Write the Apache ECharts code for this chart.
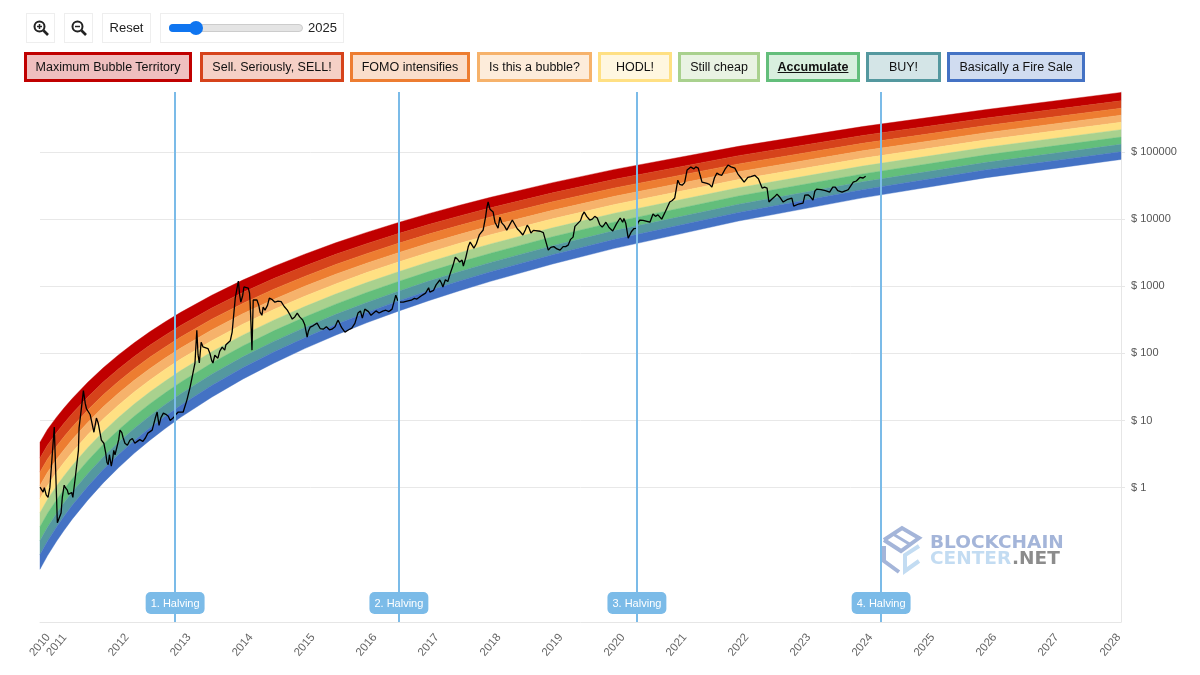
<!DOCTYPE html>
<html>
<head>
<meta charset="utf-8">
<title>Bitcoin Rainbow Price Chart</title>
<script src="https://cdn.jsdelivr.net/npm/echarts@6/dist/echarts.min.js"></script>
<style>
    html, body { margin: 0; padding: 0; background: #fff; }
    body { width: 1200px; height: 675px; position: relative; overflow: hidden; font-family: "Liberation Sans", Arial, sans-serif; color: #222; }
    #chart { position: absolute; left: 0; top: 0; width: 1200px; height: 675px; }
    .tool { position: absolute; top: 13px; height: 30px; box-sizing: border-box; border: 1px solid #eee; text-align: center; line-height: 28px; font-size: 13px; }
    .tool svg { margin-top: 6px; }
    .track { position: absolute; left: 8px; top: 10px; width: 134px; height: 8px; box-sizing: border-box; border-radius: 4px; background: #e4e4e4; border: 1px solid #ccc; }
    .fill { position: absolute; left: 8px; top: 10px; width: 30px; height: 8px; border-radius: 4px; background: #0f75f0; }
    .thumb { position: absolute; left: 28px; top: 7px; width: 14px; height: 14px; border-radius: 7px; background: #0f75f0; }
    .year { position: absolute; left: 147px; top: 0; }
    .legendBox { position: absolute; top: 52px; height: 30px; box-sizing: border-box; border-width: 3px; border-style: solid; text-align: center; line-height: 25px; font-size: 12.5px; color: #111; }
</style>
</head>
<body>
<div id="chart"></div>
<div class="tool" style="left:26px;width:29px"><svg width="16" height="16" viewBox="0 0 16 16"><circle cx="6.5" cy="6.5" r="5" fill="none" stroke="#222" stroke-width="2"/><path d="M10.5 10.5L15 15" stroke="#222" stroke-width="2.6"/><path d="M4 6.5h5M6.5 4v5" stroke="#222" stroke-width="1.5"/></svg></div>
<div class="tool" style="left:64px;width:29px"><svg width="16" height="16" viewBox="0 0 16 16"><circle cx="6.5" cy="6.5" r="5" fill="none" stroke="#222" stroke-width="2"/><path d="M10.5 10.5L15 15" stroke="#222" stroke-width="2.6"/><path d="M4 6.5h5" stroke="#222" stroke-width="1.5"/></svg></div>
<div class="tool" style="left:102px;width:49px">Reset</div>
<div class="tool" style="left:160px;width:184px">
    <div class="track"></div><div class="fill"></div><div class="thumb"></div>
    <div class="year">2025</div>
</div>
<div id="legend"></div>
<script>
// band edges, top edge to bottom edge
var edgeYears = [2010.73, 2010.85, 2011, 2011.12, 2011.25, 2011.5, 2011.75, 2012, 2012.25, 2012.5, 2012.75, 2013, 2013.5, 2014, 2014.5, 2015, 2015.5, 2016, 2016.5, 2017, 2017.5, 2018, 2019, 2020, 2022, 2024, 2026, 2028.17];
var edgeBubble = [4.76, 7.36, 11.35, 15.5, 21.3, 37.1, 61.2, 95.7, 144, 210, 296, 409, 735, 1236, 1972, 3006, 4446, 6353, 8831, 12080, 16110, 21180, 34990, 55080, 121600, 239300, 429500, 770900];
var edgeSell = [2.76, 4.29, 6.67, 9.18, 12.7, 22.4, 37.4, 59, 89.7, 132, 187, 261, 474, 809, 1303, 2004, 2992, 4315, 6039, 8318, 11170, 14760, 24660, 39260, 88310, 176200, 320600, 578100];
var edgeFomo = [1.71, 2.66, 4.18, 5.79, 8.05, 14.4, 24.2, 38.5, 59.2, 87.5, 125, 175, 324, 556, 906, 1403, 2113, 3062, 4325, 5984, 8091, 10760, 18160, 29170, 66530, 134600, 247700, 448700];
var edgeIsBubble = [1.08, 1.69, 2.67, 3.72, 5.22, 9.4, 16, 25.7, 39.7, 59.2, 85.3, 120, 224, 389, 638, 1000, 1514, 2213, 3141, 4375, 5943, 7943, 13550, 21930, 50930, 104200, 194100, 353200];
var edgeHodl = [0.685, 1.07, 1.71, 2.4, 3.38, 6.14, 10.6, 17.1, 26.7, 40, 58.1, 82.4, 155, 273, 451, 711, 1086, 1600, 2286, 3199, 4375, 5875, 10120, 16520, 38900, 80540, 151700, 277300];
var edgeCheap = [0.424, 0.667, 1.07, 1.51, 2.14, 3.94, 6.84, 11.2, 17.6, 26.6, 38.8, 55.5, 106, 187, 313, 498, 767, 1135, 1633, 2301, 3162, 4276, 7430, 12250, 29310, 61660, 117500, 215300];
var edgeAccumulate = [0.262, 0.414, 0.67, 0.953, 1.36, 2.53, 4.44, 7.31, 11.6, 17.7, 25.9, 37.3, 71.9, 129, 217, 348, 542, 807, 1169, 1656, 2291, 3112, 5470, 9099, 22130, 47100, 90780, 167100];
var edgeBuy = [0.163, 0.257, 0.42, 0.6, 0.863, 1.62, 2.87, 4.78, 7.64, 11.7, 17.4, 25.1, 49, 88.9, 151, 244, 382, 574, 838, 1194, 1660, 2270, 4027, 6761, 16670, 35970, 70150, 130000];
var edgeFireSale = [0.101, 0.16, 0.263, 0.378, 0.547, 1.04, 1.86, 3.12, 5.04, 7.78, 11.6, 16.9, 33.3, 61.2, 105, 171, 270, 408, 600, 859, 1202, 1652, 2958, 5012, 12590, 27480, 54330, 100900];
var edgeBottom = [0.061, 0.097, 0.161, 0.233, 0.34, 0.653, 1.18, 2, 3.26, 5.07, 7.62, 11.2, 22.3, 41.4, 71.6, 118, 187, 286, 423, 610, 859, 1186, 2148, 3673, 9376, 20750, 41500, 77450];
var edges = [edgeBubble, edgeSell, edgeFomo, edgeIsBubble, edgeHodl, edgeCheap, edgeAccumulate, edgeBuy, edgeFireSale, edgeBottom];

var bandNames = ['Maximum Bubble Territory', 'Sell. Seriously, SELL!', 'FOMO intensifies', 'Is this a bubble?', 'HODL!', 'Still cheap', 'Accumulate', 'BUY!', 'Basically a Fire Sale'];
var bandColors = ['#c00000', '#d6431b', '#ed7d31', '#f6b26b', '#ffe083', '#a9d18e', '#63be7b', '#54989f', '#4472c4'];
var legendLeft = [24, 200, 350, 477, 598, 678, 766, 866, 947];
var legendWidth = [168, 144, 120, 115, 74, 82, 94, 75, 138];

// main turning points of the price
var priceYears = [2010.73, 2010.78, 2010.86, 2010.89, 2010.93, 2010.96, 2010.99, 2011.01, 2011.04, 2011.07, 2011.09, 2011.12, 2011.17, 2011.22, 2011.26, 2011.30, 2011.35, 2011.36, 2011.39, 2011.43, 2011.46, 2011.51, 2011.57, 2011.60, 2011.64, 2011.67, 2011.72, 2011.76, 2011.81, 2011.85, 2011.88, 2011.94, 2011.97, 2012.02, 2012.07, 2012.14, 2012.18, 2012.30, 2012.39, 2012.47, 2012.54, 2012.59, 2012.62, 2012.65, 2012.72, 2012.80, 2012.86, 2012.91, 2012.96, 2013.04, 2013.10, 2013.15, 2013.23, 2013.26, 2013.30, 2013.33, 2013.39, 2013.47, 2013.52, 2013.55, 2013.67, 2013.76, 2013.83, 2013.88, 2013.93, 2013.97, 2014.02, 2014.09, 2014.12, 2014.15, 2014.17, 2014.23, 2014.28, 2014.36, 2014.43, 2014.57, 2014.72, 2014.80, 2014.88, 2014.97, 2015.04, 2015.09, 2015.20, 2015.30, 2015.44, 2015.54, 2015.65, 2015.76, 2015.86, 2015.93, 2015.97, 2016.10, 2016.26, 2016.41, 2016.47, 2016.54, 2016.59, 2016.81, 2017.02, 2017.05, 2017.18, 2017.23, 2017.35, 2017.43, 2017.54, 2017.56, 2017.67, 2017.73, 2017.88, 2017.96, 2018.04, 2018.12, 2018.15, 2018.26, 2018.35, 2018.52, 2018.59, 2018.65, 2018.72, 2018.88, 2018.93, 2019.12, 2019.25, 2019.33, 2019.39, 2019.51, 2019.60, 2019.72, 2019.80, 2019.86, 2019.97, 2020.09, 2020.18, 2020.22, 2020.35, 2020.41, 2020.57, 2020.62, 2020.76, 2020.89, 2020.97, 2021.02, 2021.09, 2021.17, 2021.23, 2021.35, 2021.41, 2021.57, 2021.65, 2021.73, 2021.83, 2021.94, 2022.09, 2022.15, 2022.26, 2022.38, 2022.46, 2022.49, 2022.62, 2022.72, 2022.86, 2022.89, 2023.04, 2023.07, 2023.20, 2023.26, 2023.47, 2023.52, 2023.67, 2023.80, 2023.85, 2023.96, 2024.05];
var priceValues = [1.02, 0.86, 0.72, 1.02, 3.3, 8, 8, 0.3, 0.3, 0.42, 0.72, 1.09, 0.92, 0.83, 0.72, 1.43, 3.6, 7.7, 7.2, 28, 18, 14.3, 12.9, 6.7, 10.9, 9.1, 5.1, 4.6, 2.4, 3.1, 2.1, 3.1, 4, 7.2, 5.6, 4.3, 5.1, 4.9, 4.9, 6.5, 7.2, 10.9, 13.4, 8.5, 12.9, 11.6, 10.5, 12, 13.4, 13.4, 20.2, 31, 72, 222, 72, 147, 128, 101, 72, 94, 124, 128, 208, 667, 1195, 581, 977, 940, 581, 112, 625, 625, 412, 442, 667, 600, 442, 325, 399, 313, 175, 247, 283, 230, 230, 313, 208, 238, 399, 336, 457, 385, 427, 457, 739, 581, 581, 645, 820, 820, 1240, 977, 1570, 2720, 2460, 2000, 4550, 3700, 6900, 18000, 12800, 7360, 10700, 6850, 9700, 5800, 8150, 6200, 6650, 6400, 3460, 3460, 4100, 5400, 8150, 12800, 9700, 10400, 7600, 9000, 6650, 10400, 8700, 5200, 7300, 9700, 9000, 11900, 10000, 18000, 20600, 38000, 32000, 54000, 59600, 57600, 35600, 30000, 48500, 45000, 64000, 57600, 35600, 42000, 45000, 29000, 29000, 18000, 23600, 18000, 20600, 15600, 17300, 22800, 19200, 28000, 25300, 30000, 25300, 27000, 35600, 42000, 43700];

// smaller wiggles between those points, from the zoomed crops
var detailYears = [2010.80, 2010.83, 2011.14, 2011.19, 2011.24, 2011.41, 2011.48, 2011.54, 2011.79, 2011.83, 2011.90, 2011.92, 2012.00, 2012.05, 2012.10, 2012.22, 2012.26, 2012.34, 2012.43, 2012.68, 2012.76, 2012.83, 2012.89, 2013.28, 2013.36, 2013.44, 2013.50, 2013.60, 2013.63, 2013.71, 2013.73, 2013.80, 2013.95, 2014.00, 2014.05, 2014.11, 2014.26, 2014.31, 2014.33, 2014.40, 2014.47, 2014.52, 2014.62, 2014.67, 2014.76, 2014.84, 2014.92, 2015.00, 2015.06, 2015.14, 2015.25, 2015.35, 2015.40, 2015.49, 2015.52, 2015.58, 2015.60, 2015.71, 2015.81, 2015.90, 2016.03, 2016.07, 2016.15, 2016.20, 2016.31, 2016.36, 2016.50, 2016.57, 2016.65, 2016.72, 2016.77, 2016.90, 2016.95, 2017.00, 2017.08, 2017.12, 2017.21, 2017.27, 2017.31, 2017.39, 2017.47, 2017.50, 2017.60, 2017.64, 2017.70, 2017.77, 2017.82, 2017.85, 2017.92, 2017.94, 2017.99, 2018.02, 2018.07, 2018.10, 2018.18, 2018.22, 2018.30, 2018.38, 2018.43, 2018.47, 2018.56, 2018.62, 2018.69, 2018.80, 2018.85, 2018.97, 2019.02, 2019.07, 2019.17, 2019.21, 2019.29, 2019.36, 2019.45, 2019.48, 2019.55, 2019.64, 2019.68, 2019.76, 2019.83, 2019.91, 2020.03, 2020.13, 2020.15, 2020.27, 2020.31, 2020.38, 2020.46, 2020.52, 2020.66, 2020.70, 2020.82, 2020.93, 2021.05, 2021.13, 2021.20, 2021.28, 2021.31, 2021.38, 2021.44, 2021.49, 2021.53, 2021.61, 2021.69, 2021.78, 2021.88, 2021.99, 2022.04, 2022.12, 2022.20, 2022.32, 2022.42, 2022.54, 2022.58, 2022.67, 2022.78, 2022.97, 2023.12, 2023.16, 2023.23, 2023.33, 2023.40, 2023.56, 2023.60, 2023.73, 2023.77, 2023.90, 2024.01];
var detailValues = [1.0, 0.78, 1.0, 0.8, 0.85, 19, 15, 12.2, 3.3, 2.2, 2.6, 3.6, 5.2, 6.6, 4.6, 5.4, 4.6, 5.2, 5.5, 11, 12.4, 10, 11.2, 95, 125, 118, 78, 85, 108, 112, 135, 155, 760, 730, 1000, 800, 520, 370, 490, 520, 640, 580, 590, 500, 380, 350, 350, 270, 215, 260, 235, 250, 225, 250, 290, 260, 240, 225, 280, 430, 420, 370, 430, 400, 440, 420, 620, 560, 600, 620, 660, 740, 790, 950, 870, 1050, 1100, 1250, 1180, 2000, 2500, 2300, 2700, 3900, 4300, 4300, 5900, 6000, 11000, 15000, 14000, 14500, 9000, 8500, 8800, 8000, 8000, 9200, 7200, 6600, 6900, 7400, 6800, 6600, 6300, 3800, 3900, 3600, 3900, 3900, 5000, 7800, 9500, 11500, 11000, 10000, 11000, 8300, 8200, 7500, 8500, 9000, 10200, 6500, 7200, 9000, 9600, 9300, 11000, 11600, 13000, 19000, 33000, 35000, 51000, 56000, 60000, 45000, 36000, 34000, 33000, 41000, 46000, 55000, 60000, 47000, 41000, 38000, 43000, 40000, 30000, 20000, 21500, 21000, 19500, 16800, 23000, 21500, 26000, 27500, 26500, 30000, 26500, 26500, 27500, 37000, 41000];

var halvingYears = [2012.91, 2016.52, 2020.36, 2024.30];
var halvingNames = ['1. Halving', '2. Halving', '3. Halving', '4. Halving'];
var xTickYears = [2010.73, 2011, 2012, 2013, 2014, 2015, 2016, 2017, 2018, 2019, 2020, 2021, 2022, 2023, 2024, 2025, 2026, 2027, 2028];
var yTickValues = [1, 10, 100, 1000, 10000, 100000];

// legend boxes over the chart
var legendHtml = '';
for (var i = 0; i < bandNames.length; i++) {
    var c = bandColors[i];
    var label = bandNames[i] === 'Accumulate' ? '<b><u>' + bandNames[i] + '</u></b>' : bandNames[i];
    legendHtml += '<div class="legendBox" style="left:' + legendLeft[i] + 'px;width:' + legendWidth[i] + 'px;border-color:' + c + ';background:' + c + '40">' + label + '</div>';
}
document.getElementById('legend').innerHTML = legendHtml;

function renderBand(params, api) {
    var upper = edges[params.dataIndex];
    var lower = edges[params.dataIndex + 1];
    var points = [];
    for (var k = 0; k < edgeYears.length; k++) {
        points.push(api.coord([edgeYears[k], upper[k]]));
    }
    for (k = edgeYears.length - 1; k >= 0; k--) {
        points.push(api.coord([edgeYears[k], lower[k]]));
    }
    var color = bandColors[params.dataIndex];
    return {
        type: 'polygon',
        shape: { points: points },
        style: { fill: color, stroke: color, lineWidth: 0.4 }
    };
}

var pricePoints = priceYears.map(function (y, i) { return [y, priceValues[i]]; })
    .concat(detailYears.map(function (y, i) { return [y, detailValues[i]]; }))
    .sort(function (a, b) { return a[0] - b[0]; });

var chart = echarts.init(document.getElementById('chart'));
chart.setOption({
    animation: false,
    grid: { left: 40, right: 79, top: 92, bottom: 53 },
    xAxis: {
        type: 'value',
        min: 2010.73,
        max: 2028.17,
        splitLine: { show: false },
        axisLine: { lineStyle: { color: '#e6e6e6', width: 1 } },
        axisTick: { show: false },
        axisLabel: {
            customValues: xTickYears,
            rotate: 50,
            align: 'center',
            verticalAlign: 'middle',
            margin: 23,
            color: '#666',
            fontSize: 11.5,
            fontFamily: 'Liberation Sans',
            formatter: function (v) { return String(Math.floor(v)); }
        }
    },
    yAxis: {
        type: 'log',
        logBase: 10,
        min: 0.01,
        max: 783000,
        position: 'right',
        axisLine: { show: true, lineStyle: { color: '#e6e6e6', width: 1 } },
        splitLine: { show: true, lineStyle: { color: '#e8e8e8', width: 1 } },
        axisTick: { show: true, length: 4, lineStyle: { color: '#e6e6e6' }, customValues: yTickValues },
        axisLabel: {
            customValues: yTickValues,
            margin: 10,
            color: '#555',
            fontSize: 11,
            fontFamily: 'Liberation Sans',
            formatter: function (v) { return '$ ' + v; }
        }
    },
    series: [
        {
            type: 'custom',
            renderItem: renderBand,
            silent: true,
            data: bandNames.map(function (n, i) { return [edgeYears[0], edges[i][0]]; })
        },
        {
            type: 'line',
            name: 'Price',
            showSymbol: false,
            lineStyle: { color: '#000', width: 1.3 },
            data: pricePoints,
            z: 3
        },
        {
            type: 'line',
            name: 'Halving',
            data: [],
            z: 4,
            markLine: {
                silent: true,
                symbol: 'none',
                animation: false,
                lineStyle: { color: '#7bbbe8', width: 2, type: 'solid' },
                label: {
                    position: 'start',
                    distance: 0,
                    offset: [0, -30],
                    color: '#fff',
                    fontSize: 11,
                    fontFamily: 'Liberation Sans',
                    backgroundColor: '#7bbbe8',
                    borderRadius: 5,
                    padding: [6, 5, 5, 5],
                    formatter: '{b}'
                },
                data: halvingYears.map(function (y, i) { return { xAxis: y, name: halvingNames[i] }; })
            }
        }
    ],
    graphic: [
        { type: 'polyline', shape: { points: [[884, 540], [902, 528], [919, 538], [901, 551], [884, 540]] }, style: { fill: 'none', stroke: '#a4b5d9', lineWidth: 4 }, silent: true },
        { type: 'polyline', shape: { points: [[893, 534], [911, 545]] }, style: { fill: 'none', stroke: '#a4b5d9', lineWidth: 3 }, silent: true },
        { type: 'polyline', shape: { points: [[884, 546], [884, 561], [899, 572]] }, style: { fill: 'none', stroke: '#a4b5d9', lineWidth: 4 }, silent: true },
        { type: 'polyline', shape: { points: [[919, 546], [905, 555], [905, 571], [919, 561]] }, style: { fill: 'none', stroke: '#c3dcf2', lineWidth: 4 }, silent: true },
        { type: 'text', x: 930, y: 534, silent: true, style: { text: 'BLOCKCHAIN', fill: '#a4b5d9', font: 'bold 18.5px "DejaVu Sans"' } },
        { type: 'text', x: 930, y: 550, silent: true, style: { text: 'CENTER', fill: '#c3dcf2', font: 'bold 18.5px "DejaVu Sans"' } },
        { type: 'text', x: 1012, y: 550, silent: true, style: { text: '.NET', fill: '#8c8c8c', font: 'bold 18.5px "DejaVu Sans"' } }
    ]
});
</script>
</body>
</html>
